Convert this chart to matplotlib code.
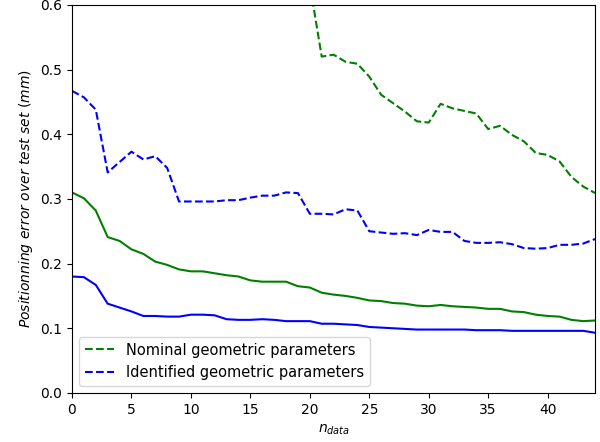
import numpy as np
import matplotlib
matplotlib.use("Agg")
import matplotlib.pyplot as plt

n_data = np.arange(45)

# test error, nominal parameters (values before n=20 are off the top of the plot)
nominal_test = [1.05, 1.02, 0.99, 0.95, 0.92, 0.89, 0.86, 0.84, 0.82, 0.80,
                0.78, 0.76, 0.74, 0.72, 0.71, 0.69, 0.68, 0.66, 0.65, 0.64,
                0.632, 0.520, 0.523, 0.512, 0.509, 0.489, 0.461, 0.448, 0.435, 0.420,
                0.418, 0.447, 0.440, 0.436, 0.432, 0.408, 0.413, 0.399, 0.389, 0.371,
                0.368, 0.358, 0.334, 0.319, 0.309]
identified_test = [0.467, 0.457, 0.438, 0.341, 0.357, 0.373, 0.361, 0.366, 0.348, 0.296,
                   0.296, 0.296, 0.296, 0.298, 0.298, 0.302, 0.305, 0.305, 0.310, 0.309,
                   0.277, 0.277, 0.276, 0.284, 0.282, 0.250, 0.248, 0.246, 0.247, 0.244,
                   0.252, 0.249, 0.249, 0.235, 0.232, 0.232, 0.233, 0.230, 0.224, 0.223,
                   0.224, 0.229, 0.229, 0.231, 0.238]
nominal_train = [0.310, 0.301, 0.282, 0.241, 0.235, 0.222, 0.215, 0.203, 0.198, 0.191,
                 0.188, 0.188, 0.185, 0.182, 0.180, 0.174, 0.172, 0.172, 0.172, 0.165,
                 0.163, 0.155, 0.152, 0.150, 0.147, 0.143, 0.142, 0.139, 0.138, 0.135,
                 0.134, 0.136, 0.134, 0.133, 0.132, 0.130, 0.130, 0.126, 0.125, 0.121,
                 0.119, 0.118, 0.113, 0.111, 0.112]
identified_train = [0.180, 0.179, 0.167, 0.138, 0.132, 0.126, 0.119, 0.119, 0.118, 0.118,
                    0.121, 0.121, 0.120, 0.114, 0.113, 0.113, 0.114, 0.113, 0.111, 0.111,
                    0.111, 0.107, 0.107, 0.106, 0.105, 0.102, 0.101, 0.100, 0.099, 0.098,
                    0.098, 0.098, 0.098, 0.098, 0.097, 0.097, 0.097, 0.096, 0.096, 0.096,
                    0.096, 0.096, 0.096, 0.096, 0.093]

fig = plt.figure(figsize=(6, 4.42), dpi=100)
ax = fig.add_axes([0.12, 0.111, 0.872, 0.878])

ax.plot(n_data, nominal_test, "g--", label="Nominal geometric parameters")
ax.plot(n_data, identified_test, "b--", label="Identified geometric parameters")
ax.plot(n_data, nominal_train, "g-")
ax.plot(n_data, identified_train, "b-")

ax.set_xlim(0, 44)
ax.set_ylim(0, 0.6)
ax.set_xlabel(r"$n_{data}$")
ax.set_ylabel(r"$Positionning\ error\ over\ test\ set\ (mm)$")
ax.legend(loc="lower left", fontsize=10.5)

fig.savefig("out.png", dpi=100)
